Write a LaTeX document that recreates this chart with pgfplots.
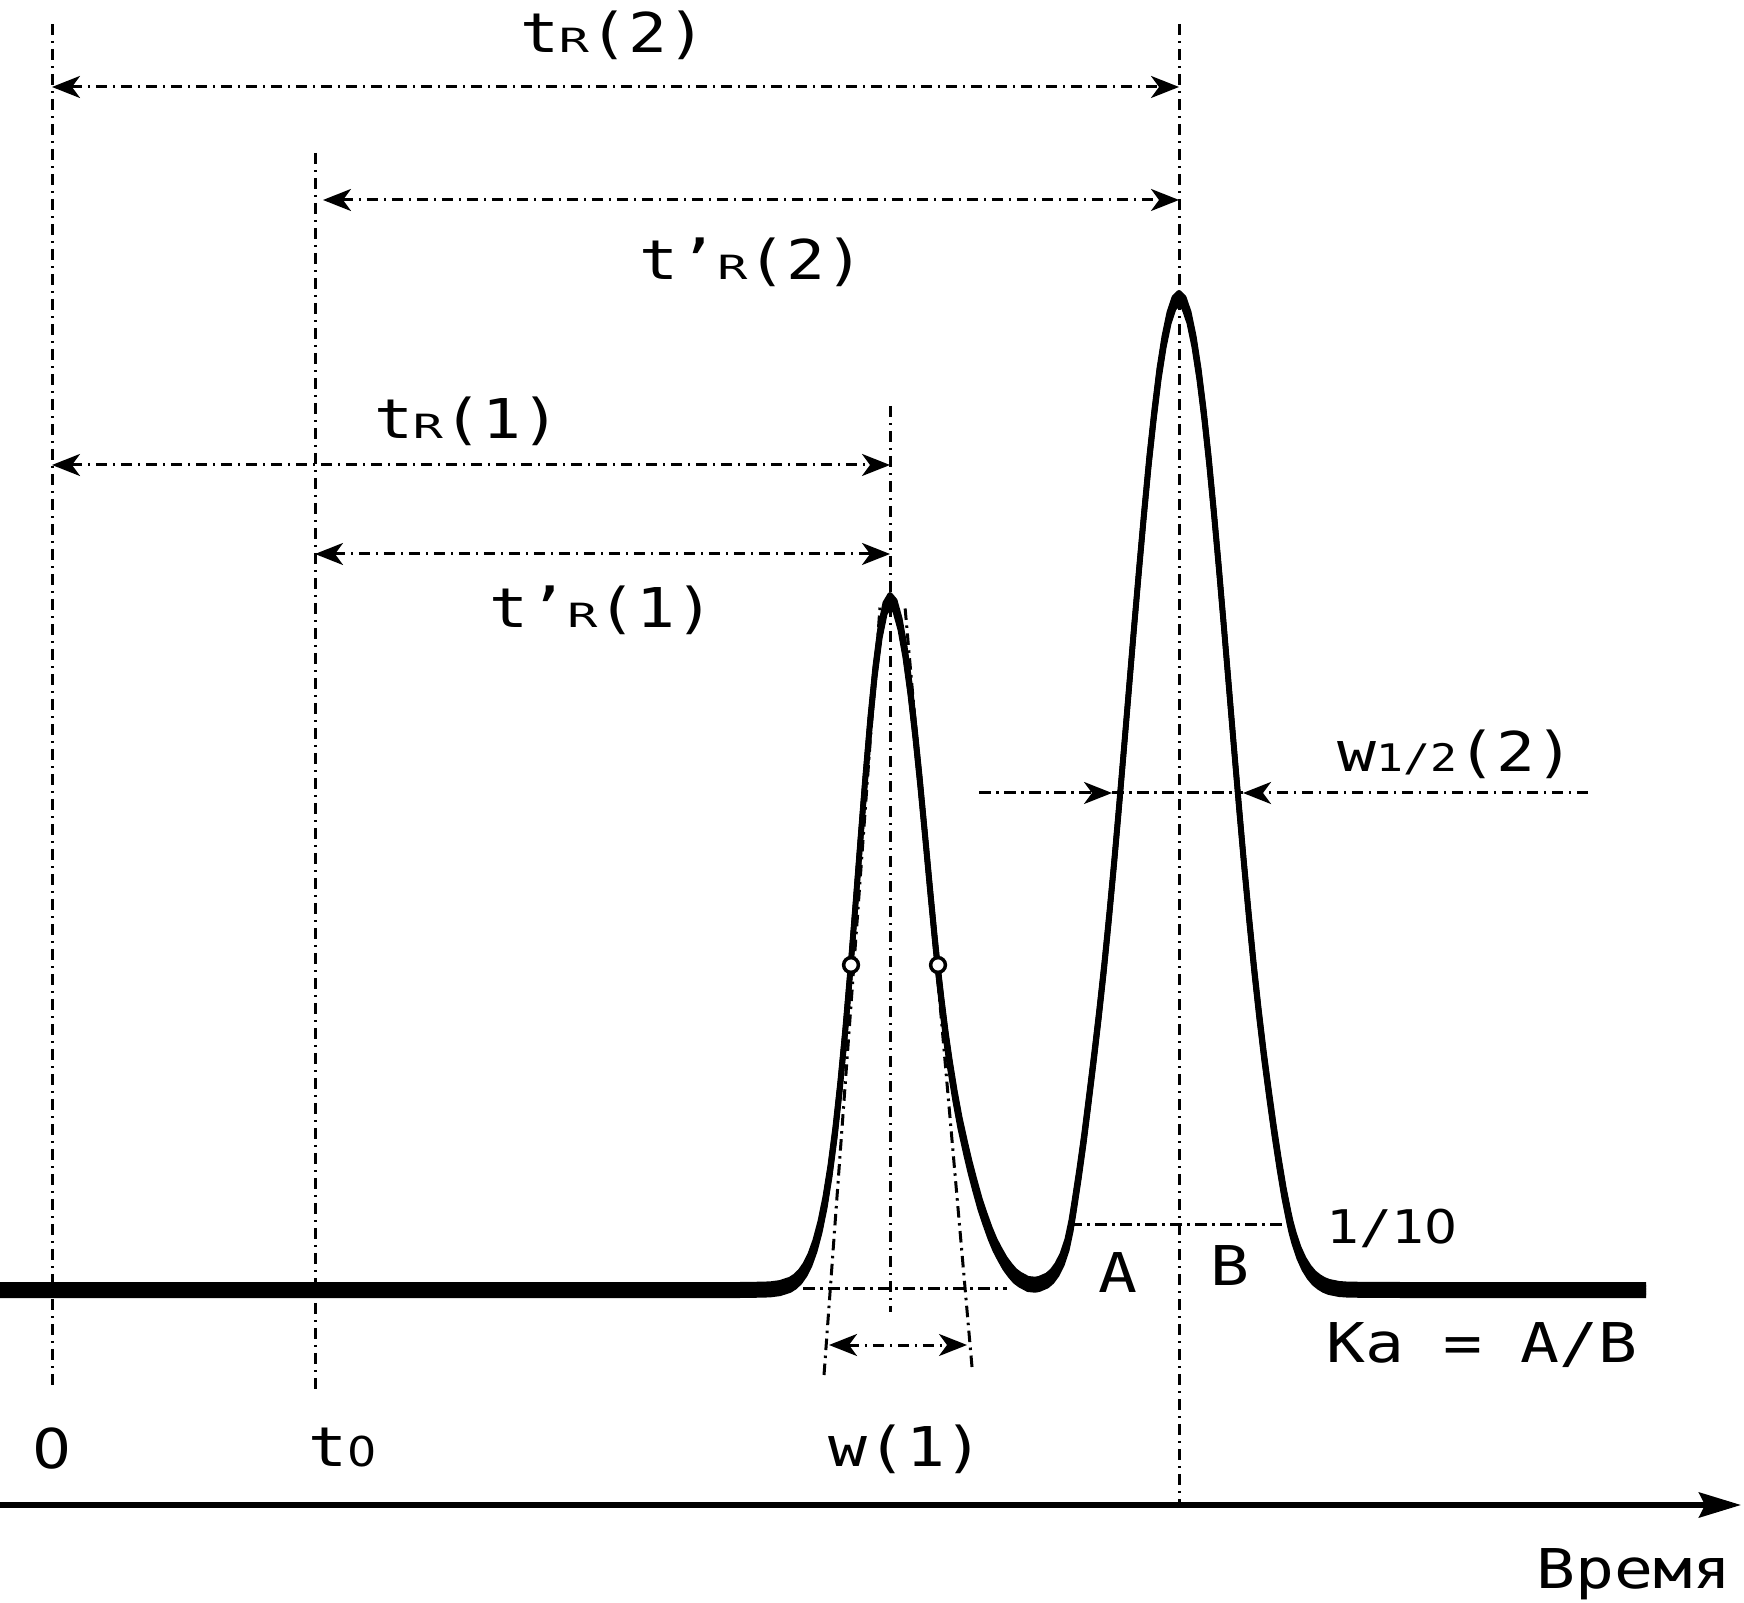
\documentclass[border=0pt]{standalone}
\usepackage{pgfplots}
\pgfplotsset{compat=1.18}
\usepackage{pgfplotstable}
\usepackage{fontspec}
\usetikzlibrary{arrows.meta}
\newfontfamily\mf[FakeStretch=1.18]{DejaVu Sans Mono}
\newfontfamily\pf[FakeStretch=1.12]{DejaVu Sans}
\newfontfamily\rf[FakeStretch=1.5]{DejaVu Sans Mono}
\newcommand\subR{{\fontsize{9.5}{11}\selectfont\rf R}}
\newcommand\sub[2]{{\fontsize{#1}{#1}\selectfont\mf #2}}
\newcommand\zero{{\pf 0}}
\pgfplotstableread{
x y
0 312
600 312
700 312
740 312
760 312.3
770 312.6
780 313.9
790 317.2
795 320.4
800 325.2
805 332.3
810 342.3
815 356.3
820 375.1
825 399.7
830 431.0
835 469.5
840 515.6
845 568.7
850 627.9
855 691.4
860 756.6
865 820.5
870 879.6
875 930.2
880 969.1
885 993.6
890 1002
895 996
900 978
905 950
910 913
915 869
920 820
925 767
930 713
935 661
938 632
942 597
946 565
950 537
955 506
960 479
966 452
970 435
975 416
980 398
985 383
990 369
995 357
1000 347.4
1005 338.6
1010 331.8
1015 326
1020 322.3
1028 318
1035 317.3
1039 318
1047 321.4
1052 325.7
1057 332.5
1062 342.4
1067 357.3
1071 376.2
1074 395
1079 428
1084 464
1089 504
1094 545
1099 588
1104 634
1109 684.4
1114 738
1119 795
1124 854
1129 914
1134 974
1139 1032
1144 1088
1149 1141
1154 1187
1159 1228
1164 1260
1169 1284
1174 1299
1179 1304
1184 1299
1189 1284.4
1194 1260.4
1199 1227.7
1204 1187.4
1209 1140.6
1214 1088.2
1219 1032.3
1224 973.8
1229 913.7
1234 853.8
1239 794.9
1244 738.1
1249 684.4
1254 634
1259 588
1264 546
1269 508
1274 472
1279 439
1284 409
1289 384
1291 375
1294 364
1299 349
1304 338
1309 330
1314 324
1319 320
1324 317
1329 315
1339 313
1349 312.3
1400 312
1646 312
}\curve
\begin{document}
\begin{tikzpicture}[
  dd/.style={line width=0.03cm, dash pattern=on 0.115cm off 0.055cm on 0.025cm off 0.055cm},
  >={Stealth[length=0.28cm,width=0.22cm,inset=0.08cm]},
  lab/.style={anchor=base, inner sep=0pt, font={\mf\fontsize{15.6}{18}\selectfont}},
  crv/.style={black, line width=0.05cm, line join=round}
]
\begin{axis}[width=17.44cm, height=16.02cm, scale only axis,
  xmin=0, xmax=1744, ymin=0, ymax=1602, hide axis, clip=true]
% dimension / guide lines
\draw[dd] (52,1578) -- (52,212);
\draw[dd] (315,1449) -- (315,212);
\draw[dd] (1179,1578) -- (1179,97);
\draw[dd] (890,1196) -- (890,290);
\draw[dd,<->] (52,1515) -- (1179,1515);
\draw[dd,<->] (323,1402) -- (1179,1402);
\draw[dd,<->] (52,1137) -- (890,1137);
\draw[dd,<->] (315,1048) -- (890,1048);
\draw[dd,->] (979,809) -- (1112,809);
\draw[dd] (1112,809) -- (1243,809);
\draw[dd,->] (1588,809) -- (1243,809);
\draw[dd] (1070,377) -- (1294,377);
\draw[dd] (803,314) -- (1007,314);
\draw[dd] (824,227) -- (880,995);
\draw[dd] (972,235) -- (905,995);
\draw[dd,<->] (829,257) -- (967,257);
% time axis
\draw[line width=0.055cm, -{Stealth[length=0.42cm,width=0.25cm,inset=0.06cm]}] (0,97) -- (1741,97);
% chromatogram (pen simulated by vertical offsets)
\addplot[crv, yshift=-0.055cm] table {\curve};
\addplot[crv, yshift=-0.0275cm] table {\curve};
\addplot[crv] table {\curve};
\addplot[crv, yshift=0.0275cm] table {\curve};
\addplot[crv, yshift=0.055cm] table {\curve};
\addplot[only marks, mark=*, mark size=2.1pt,
  mark options={solid, fill=white, draw=black, line width=0.035cm}]
  coordinates {(851,637) (938,637)};
% labels
\node[lab] at (613,1549) {t\subR(2)};
\node[lab] at (752,1322) {t’\subR(2)};
\node[lab] at (467,1163) {t\subR(1)};
\node[lab] at (602,974) {t’\subR(1)};
\node[lab] at (1456,830) {w\sub{10.8}{1/2}(2)};
\node[lab] at (1392,359) {\sub{13.2}{1/1\zero}};
\node[lab] at (1118,310) {A};
\node[lab] at (1230,317) {B};
\node[lab] at (1482,240) {Ka = A/B};
\node[lab] at (52,134) {\zero};
\node[lab] at (343,136) {t\sub{11.7}{\zero}};
\node[lab] at (906,136) {w(1)};
\node[lab] at (1634,14) {Время};
\end{axis}
\pgfresetboundingbox
\path (0,0) rectangle (17.44cm,16.02cm);
\end{tikzpicture}
\end{document}
